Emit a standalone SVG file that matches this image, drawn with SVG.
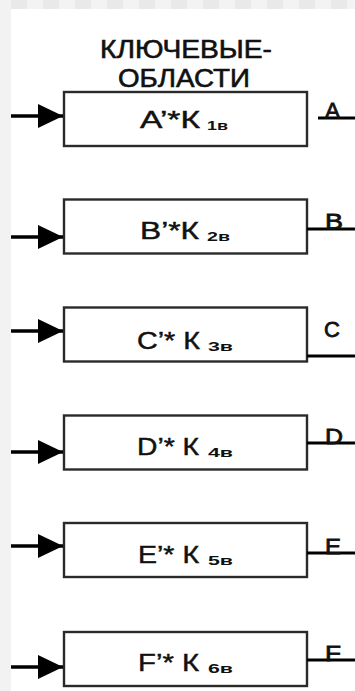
<svg xmlns="http://www.w3.org/2000/svg" width="355" height="691" viewBox="0 0 355 691">
<defs>
<pattern id="strip" x="11" y="0" width="32" height="9" patternUnits="userSpaceOnUse">
<rect x="0" y="0" width="16" height="9" fill="#e9e9e9"/>
<rect x="16" y="0" width="16" height="9" fill="#f3f3f3"/>
</pattern>
<marker id="ah" viewBox="0 0 25 24" refX="25" refY="12" markerWidth="25" markerHeight="24" markerUnits="userSpaceOnUse" orient="auto">
<path d="M0,0 L25,12 L0,24 Z" fill="#000"/>
</marker>
</defs>
<style>
.box{fill:#fff;stroke:#2a2a2a;stroke-width:2.4}
.main{font-family:"Liberation Sans",Arial,sans-serif;font-size:24px;fill:#111;stroke:#111;stroke-width:0.45}
.sub{font-family:"Liberation Sans",Arial,sans-serif;font-size:13px;font-weight:bold;fill:#111}
.ttl{font-family:"Liberation Sans",Arial,sans-serif;font-size:25px;fill:#111;stroke:#111;stroke-width:0.6;text-anchor:middle}
.out{font-family:"Liberation Sans",Arial,sans-serif;font-size:22px;fill:#111;stroke:#111;stroke-width:0.8}
.in{stroke:#000;stroke-width:3.4;fill:none}
.ol{stroke:#000;stroke-width:3;fill:none}
</style>
<rect x="0" y="0" width="355" height="691" fill="#fff"/>
<rect x="0" y="0" width="11" height="691" fill="#f2f2f2"/>
<rect x="11" y="0" width="344" height="9" fill="url(#strip)"/>

<g id="title">
<text class="ttl" x="186" y="58" textLength="172" lengthAdjust="spacingAndGlyphs">КЛЮЧЕВЫЕ-</text>
<text class="ttl" x="184" y="87" textLength="132" lengthAdjust="spacingAndGlyphs">ОБЛАСТИ</text>
</g>

<g id="nodeA">
<rect class="box" x="64" y="92" width="243" height="54"/>
<text class="main" x="140" y="128" textLength="60" lengthAdjust="spacingAndGlyphs">A’*К</text>
<text class="sub" x="207" y="130" textLength="21" lengthAdjust="spacingAndGlyphs">1в</text>
</g>
<g id="nodeB">
<rect class="box" x="64" y="199.5" width="243" height="54"/>
<text class="main" x="140" y="239" textLength="59" lengthAdjust="spacingAndGlyphs">B’*К</text>
<text class="sub" x="207" y="241" textLength="23" lengthAdjust="spacingAndGlyphs">2в</text>
</g>
<g id="nodeC">
<rect class="box" x="64" y="307.5" width="243" height="54"/>
<text class="main" x="137" y="349" textLength="63" lengthAdjust="spacingAndGlyphs">C’* К</text>
<text class="sub" x="208" y="351" textLength="25" lengthAdjust="spacingAndGlyphs">3в</text>
</g>
<g id="nodeD">
<rect class="box" x="64" y="415.5" width="243" height="54"/>
<text class="main" x="137" y="455" textLength="62" lengthAdjust="spacingAndGlyphs">D’* К</text>
<text class="sub" x="208" y="457" textLength="25" lengthAdjust="spacingAndGlyphs">4в</text>
</g>
<g id="nodeE">
<rect class="box" x="64" y="523" width="243" height="54"/>
<text class="main" x="138" y="563" textLength="61" lengthAdjust="spacingAndGlyphs">E’* К</text>
<text class="sub" x="208" y="565" textLength="25" lengthAdjust="spacingAndGlyphs">5в</text>
</g>
<g id="nodeF">
<rect class="box" x="64" y="632" width="243" height="54"/>
<text class="main" x="138" y="671" textLength="61" lengthAdjust="spacingAndGlyphs">F’* К</text>
<text class="sub" x="208" y="673" textLength="25" lengthAdjust="spacingAndGlyphs">6в</text>
</g>

<g id="connectors">
<path class="in" d="M11,116 H63" marker-end="url(#ah)"/>
<path class="in" d="M11,237 H63" marker-end="url(#ah)"/>
<path class="in" d="M11,331 H63" marker-end="url(#ah)"/>
<path class="in" d="M11,452 H63" marker-end="url(#ah)"/>
<path class="in" d="M11,546 H63" marker-end="url(#ah)"/>
<path class="in" d="M11,667 H63" marker-end="url(#ah)"/>
<path class="ol" d="M318,118 H355"/>
<path class="ol" d="M307,229 H355"/>
<path class="ol" d="M307,356 H355"/>
<path class="ol" d="M307,443 H355"/>
<path class="ol" d="M307,553 H355"/>
<path class="ol" d="M307,660 H355"/>
</g>

<g id="outputs">
<text class="out" x="325" y="118" textLength="15" lengthAdjust="spacingAndGlyphs">A</text>
<text class="out" x="325" y="229" textLength="18" lengthAdjust="spacingAndGlyphs">B</text>
<text class="out" x="324" y="337">C</text>
<text class="out" x="325" y="444" textLength="18" lengthAdjust="spacingAndGlyphs">D</text>
<text class="out" x="325" y="554" textLength="16" lengthAdjust="spacingAndGlyphs">E</text>
<text class="out" x="325" y="661" textLength="16" lengthAdjust="spacingAndGlyphs">F</text>
</g>
</svg>
